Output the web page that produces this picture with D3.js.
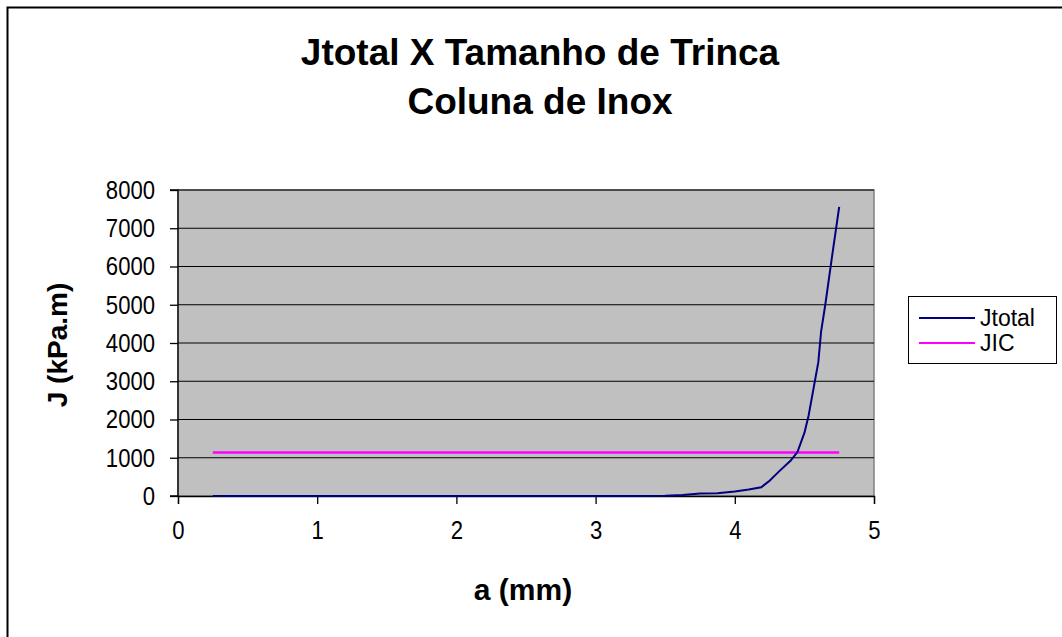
<!DOCTYPE html>
<html><head><meta charset="utf-8">
<script src="https://cdn.jsdelivr.net/npm/d3@7"></script>
<style>body{margin:0;background:#fff}svg{display:block;font-family:"Liberation Sans",Arial,sans-serif}</style>
</head><body>
<svg id="c" width="1062" height="637"></svg>
<script>
const aValues = [0.25,0.5,0.75,1.0,1.25,1.5,1.75,2.0,2.25,2.5,2.75,3.0,3.25,3.5,3.625,3.75,3.875,4.0,4.1,4.19,4.25,4.32,4.4,4.45,4.5,4.53,4.57,4.6,4.62,4.65,4.7,4.75];
const jtotal  = [0,0,0,0,0,0,0,0,0,0,0,0,0,5,25,65,70,120,170,230,400,650,920,1150,1650,2100,2900,3500,4300,5000,6300,7560];
const jicX = [0.25, 4.75];
const jicY = [1140, 1140];
const xTicks = [0,1,2,3,4,5];
const yTicks = [0,1000,2000,3000,4000,5000,6000,7000,8000];
const titleLines = ["Jtotal X Tamanho de Trinca","Coluna de Inox"];
const seriesNames = ["Jtotal","JIC"];
const colors = ["#000080","#FF00FF"];

const svg = d3.select("#c");
svg.append("rect").attr("x",7.5).attr("y",7.5).attr("width",1100).attr("height",700)
  .attr("fill","#fff").attr("stroke","#000").attr("stroke-width",2);

const L=178, R=874, T=190, B=496;
const x = d3.scaleLinear().domain([0,5]).range([L,R]);
const y = d3.scaleLinear().domain([0,8000]).range([B,T]);

svg.append("rect").attr("x",L).attr("y",T).attr("width",R-L).attr("height",B-T)
  .attr("fill","#C0C0C0").attr("stroke","#808080").attr("stroke-width",1.5);

svg.append("g").selectAll("line").data(yTicks.filter(d=>d>0)).join("line")
  .attr("x1",L).attr("x2",R).attr("y1",d=>y(d)).attr("y2",d=>y(d))
  .attr("stroke","#000").attr("stroke-width",1);

const yAxis = d3.axisLeft(y).tickValues(yTicks).tickSize(8).tickPadding(15).tickFormat(d3.format("d"));
const gy = svg.append("g").attr("transform",`translate(${L},0)`).call(yAxis);
const xAxis = d3.axisBottom(x).tickValues(xTicks).tickSize(8).tickPadding(17).tickFormat(d3.format("d"));
const gx = svg.append("g").attr("transform",`translate(0,${B})`).call(xAxis);
[gy,gx].forEach(g=>{
  g.attr("font-size",26).attr("font-family","Liberation Sans, Arial, sans-serif");
  g.select(".domain").attr("stroke","#000").attr("stroke-width",1.3);
  g.selectAll(".tick line").attr("stroke","#000").attr("stroke-width",1.3);
  g.selectAll("text").attr("fill","#000").each(function(){
    const w = this.getComputedTextLength();
    d3.select(this).attr("textLength", w*0.85).attr("lengthAdjust","spacingAndGlyphs");
  });
});
gy.select(".domain").attr("d",`M-8,${T}H0V${B}H-8`);

const line = d3.line().x(d=>x(d[0])).y(d=>y(d[1]));
svg.append("path").datum(jicX.map((v,i)=>[v,jicY[i]])).attr("d",line)
  .attr("fill","none").attr("stroke",colors[1]).attr("stroke-width",2.5);
svg.append("path").datum(aValues.map((v,i)=>[v,jtotal[i]])).attr("d",line)
  .attr("fill","none").attr("stroke",colors[0]).attr("stroke-width",2);

svg.append("g").selectAll("text").data(titleLines).join("text")
  .attr("x",540).attr("y",(d,i)=>65+i*49).attr("text-anchor","middle")
  .attr("font-size",37).attr("font-weight","bold").text(d=>d);

svg.append("text").attr("x",523).attr("y",600).attr("text-anchor","middle")
  .attr("font-size",30).attr("font-weight","bold").text("a (mm)");
svg.append("text").attr("transform","translate(67,345) rotate(-90)").attr("text-anchor","middle")
  .attr("font-size",28).attr("font-weight","bold").text("J (kPa.m)");

const lg = svg.append("g");
lg.append("rect").attr("x",908.5).attr("y",296.5).attr("width",148).attr("height",67)
  .attr("fill","#fff").attr("stroke","#000").attr("stroke-width",1);
const items = lg.selectAll("g").data(seriesNames).join("g")
  .attr("transform",(d,i)=>`translate(0,${318+i*25})`);
items.append("line").attr("x1",919).attr("x2",975).attr("y1",0).attr("y2",0)
  .attr("stroke",(d,i)=>colors[i]).attr("stroke-width",2);
items.append("text").attr("x",980).attr("y",8).attr("font-size",23).text(d=>d);
</script>
</body></html>
